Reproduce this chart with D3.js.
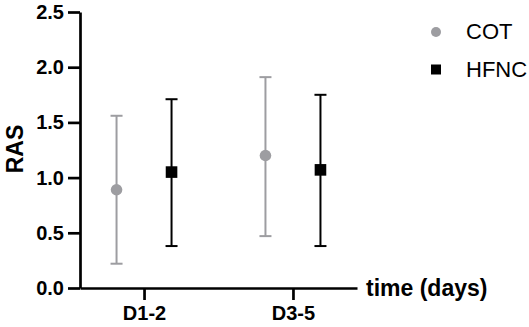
<!DOCTYPE html>
<html>
<head>
<meta charset="utf-8">
<script src="https://cdn.jsdelivr.net/npm/d3@7"></script>
<style>
	html, body { margin: 0; padding: 0; background: #fff; }
	svg { display: block; font-family: 'Liberation Sans', Arial, sans-serif; }
	.axis path, .axis line { stroke: #000; stroke-width: 2.7; }
	.axis text { font-weight: bold; fill: #000; }
</style>
</head>
<body>
<div id="chart"></div>
<script>
var categories = ['D1-2', 'D3-5'];
var seriesNames = ['COT', 'HFNC'];
var yTicks = [0, 0.5, 1.0, 1.5, 2.0, 2.5];

// mean and whisker ends, one value per category
var cotMean = [0.89, 1.20];
var cotLow = [0.22, 0.47];
var cotHigh = [1.56, 1.91];
var hfncMean = [1.05, 1.07];
var hfncLow = [0.38, 0.38];
var hfncHigh = [1.71, 1.75];

(function () {
	'use strict';

	var width = 529, height = 327;
	var margin = {top: 12, right: 172, bottom: 39, left: 80};
	var colors = {COT: '#9d9da1', HFNC: '#000'};

	var series = [
		{name: 'COT', mean: cotMean, low: cotLow, high: cotHigh},
		{name: 'HFNC', mean: hfncMean, low: hfncLow, high: hfncHigh}
	];

	var points = [];
	series.forEach(function (s) {
		categories.forEach(function (c, i) {
			points.push({name: s.name, cat: c, mean: s.mean[i], low: s.low[i], high: s.high[i]});
		});
	});

	var x = d3.scalePoint().domain(categories)
				.range([margin.left, width - margin.right]).padding(0.43);
	var dx = d3.scalePoint().domain(seriesNames).range([-27.5, 27.5]);
	var y = d3.scaleLinear().domain([0, 2.5]).range([height - margin.bottom, margin.top]);

	var svg = d3.select('#chart').append('svg')
				.attr('width', width)
				.attr('height', height);

	// error bars
	var bars = svg.selectAll('.bar')
			.data(points)
			.enter().append('g')
				.attr('class', 'bar')
				.attr('stroke', function (d) { return colors[d.name]; })
				.attr('stroke-width', 2);

	bars.append('line')
		.attr('x1', function (d) { return x(d.cat) + dx(d.name); })
		.attr('x2', function (d) { return x(d.cat) + dx(d.name); })
		.attr('y1', function (d) { return y(d.low); })
		.attr('y2', function (d) { return y(d.high); });

	['low', 'high'].forEach(function (k) {
		bars.append('line')
			.attr('x1', function (d) { return x(d.cat) + dx(d.name) - 6; })
			.attr('x2', function (d) { return x(d.cat) + dx(d.name) + 6; })
			.attr('y1', function (d) { return y(d[k]); })
			.attr('y2', function (d) { return y(d[k]); });
	});

	// markers
	svg.selectAll('.cot')
		.data(points.filter(function (d) { return d.name === 'COT'; }))
		.enter().append('circle')
			.attr('class', 'cot')
			.attr('cx', function (d) { return x(d.cat) + dx(d.name); })
			.attr('cy', function (d) { return y(d.mean); })
			.attr('r', 5.8)
			.attr('fill', colors.COT);

	svg.selectAll('.hfnc')
		.data(points.filter(function (d) { return d.name === 'HFNC'; }))
		.enter().append('rect')
			.attr('class', 'hfnc')
			.attr('x', function (d) { return x(d.cat) + dx(d.name) - 5.8; })
			.attr('y', function (d) { return y(d.mean) - 5.8; })
			.attr('width', 11.6)
			.attr('height', 11.6)
			.attr('fill', colors.HFNC);

	// axes
	svg.append('g')
		.attr('class', 'axis axis--y')
		.attr('transform', 'translate(' + margin.left + ',0)')
		.style('font-size', '20px')
		.call(d3.axisLeft(y).tickValues(yTicks).tickFormat(d3.format('.1f'))
			.tickSize(12).tickSizeOuter(0).tickPadding(4));

	svg.append('g')
		.attr('class', 'axis axis--x')
		.attr('transform', 'translate(0,' + (height - margin.bottom) + ')')
		.style('font-size', '20px')
		.call(d3.axisBottom(x).tickSize(12).tickSizeOuter(0).tickPadding(6));

	svg.selectAll('.axis').attr('font-family', null).attr('font-size', null);

	svg.append('text')
		.attr('x', width - margin.right + 9)
		.attr('y', height - margin.bottom)
		.attr('dy', '0.35em')
		.style('font-size', '23px')
		.style('font-weight', 'bold')
		.text('time (days)');

	svg.append('text')
		.attr('transform', 'translate(23,149) rotate(-90)')
		.attr('text-anchor', 'middle')
		.style('font-size', '23px')
		.style('font-weight', 'bold')
		.text('RAS');

	// legend
	var legend = svg.append('g')
			.attr('class', 'legend')
			.attr('transform', 'translate(436,32)');

	legend.append('circle')
		.attr('r', 5)
		.attr('fill', colors.COT);
	legend.append('rect')
		.attr('x', -5).attr('y', 32.5)
		.attr('width', 10).attr('height', 10)
		.attr('fill', colors.HFNC);

	legend.selectAll('.desc')
		.data(seriesNames)
		.enter().append('text')
			.attr('class', 'desc')
			.attr('x', 30)
			.attr('y', function (d, i) { return i * 38 + 6.5; })
			.style('font-size', '22px')
			.text(function (d) { return d; });
})();
</script>
</body>
</html>
